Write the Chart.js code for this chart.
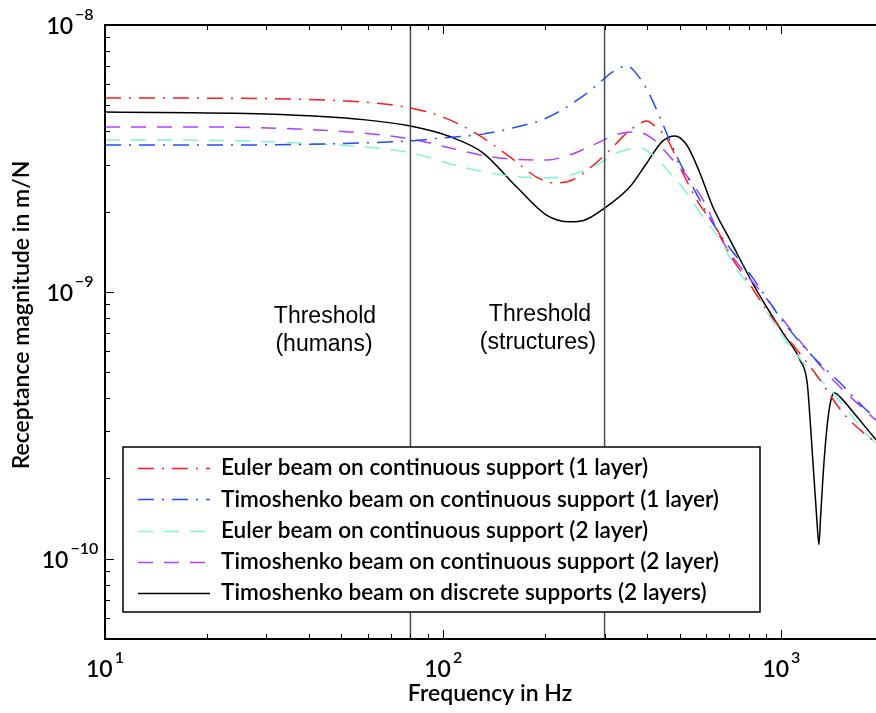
<!DOCTYPE html>
<html>
<head>
<meta charset="utf-8">
<script src="https://cdn.jsdelivr.net/npm/chart.js@4.4.0/dist/chart.umd.min.js"></script>
<style>
  html, body { margin: 0; padding: 0; background: #fff; }
  #wrap { width: 876px; height: 713px; }
</style>
</head>
<body>
<div id="wrap"><canvas id="receptanceChart" width="876" height="713"></canvas></div>
<script>
// ===== Receptance vs frequency (log-log) =====

// Euler beam on continuous support (1 layer)
const redFreq = [10, 20, 35, 50, 65, 80, 98, 126, 157, 190, 214, 240, 275, 311, 350, 389, 400, 425, 458, 511, 562, 645, 719, 791, 882, 1000, 1111, 1274, 1521, 1852, 1904];
const redVal = [5.33e-9, 5.32e-9, 5.28e-9, 5.20e-9, 5.08e-9, 4.89e-9, 4.56e-9, 3.90e-9, 3.21e-9, 2.68e-9, 2.56e-9, 2.62e-9, 2.95e-9, 3.40e-9, 3.95e-9, 4.33e-9, 4.37e-9, 4.15e-9, 3.77e-9, 2.79e-9, 2.21e-9, 1.71e-9, 1.32e-9, 1.11e-9, 8.94e-10, 7.2e-10, 6.07e-10, 4.85e-10, 3.52e-10, 2.79e-10, 2.72e-10];

// Timoshenko beam on continuous support (1 layer)
const blueFreq = [10, 20, 40, 60, 80, 98, 131, 165, 202, 262, 296, 317, 349, 381, 408, 443, 491, 547, 644, 738, 818, 1003, 1240, 1490, 1742, 1904];
const blueVal = [3.55e-9, 3.55e-9, 3.57e-9, 3.62e-9, 3.68e-9, 3.77e-9, 3.90e-9, 4.15e-9, 4.48e-9, 5.47e-9, 6.22e-9, 6.67e-9, 7.02e-9, 6.33e-9, 5.47e-9, 4.33e-9, 3.21e-9, 2.47e-9, 1.71e-9, 1.35e-9, 1.14e-9, 7.85e-10, 5.71e-10, 4.56e-10, 3.71e-10, 3.35e-10];

// Euler beam on continuous support (2 layer)
const cyanFreq = [10, 20, 38, 60, 80, 117, 165, 202, 240, 277, 333, 381, 417, 468, 525, 586, 658, 738, 824, 1010, 1190, 1392, 1673, 1791, 1904];
const cyanVal = [3.71e-9, 3.70e-9, 3.61e-9, 3.48e-9, 3.32e-9, 2.91e-9, 2.70e-9, 2.67e-9, 2.75e-9, 2.94e-9, 3.35e-9, 3.46e-9, 3.26e-9, 2.79e-9, 2.35e-9, 1.91e-9, 1.57e-9, 1.21e-9, 1.02e-9, 6.78e-10, 5.24e-10, 4.30e-10, 3.23e-10, 2.91e-10, 2.72e-10];

// Timoshenko beam on continuous support (2 layer)
const purpleFreq = [10, 19, 53, 80, 105, 130, 157, 202, 240, 277, 340, 374, 414, 468, 536, 602, 658, 925, 1190, 1420, 1827, 1904];
const purpleVal = [4.15e-9, 4.15e-9, 3.97e-9, 3.74e-9, 3.46e-9, 3.25e-9, 3.15e-9, 3.12e-9, 3.28e-9, 3.55e-9, 3.94e-9, 3.97e-9, 3.77e-9, 3.21e-9, 2.63e-9, 2.08e-9, 1.61e-9, 9.09e-10, 6.07e-10, 4.68e-10, 3.46e-10, 3.30e-10];

// Timoshenko beam on discrete supports (2 layers)
const blackFreq = [10, 30, 59, 80, 105, 131, 165, 202, 237, 260, 300, 356, 400, 446, 484, 525, 574, 627, 704, 835, 1010, 1134, 1192, 1214, 1242, 1271, 1291, 1306, 1324, 1345, 1375, 1408, 1440, 1490, 1673, 1904];
const blackVal = [4.72e-9, 4.64e-9, 4.41e-9, 4.18e-9, 3.81e-9, 3.32e-9, 2.47e-9, 1.94e-9, 1.83e-9, 1.85e-9, 2.06e-9, 2.47e-9, 3.04e-9, 3.68e-9, 3.84e-9, 3.55e-9, 2.79e-9, 2.08e-9, 1.57e-9, 1.04e-9, 7.02e-10, 5.56e-10, 4.56e-10, 3.40e-10, 2.21e-10, 1.44e-10, 1.13e-10, 1.44e-10, 1.93e-10, 2.56e-10, 3.40e-10, 4.04e-10, 4.18e-10, 4.04e-10, 3.40e-10, 2.79e-10];

const seriesLabels = [
    'Euler beam on continuous support (1 layer)',
    'Timoshenko beam on continuous support (1 layer)',
    'Euler beam on continuous support (2 layer)',
    'Timoshenko beam on continuous support (2 layer)',
    'Timoshenko beam on discrete supports (2 layers)'
];

const thresholdFreq = [80, 300];
const thresholdLabels = [['Threshold', '(humans)'], ['Threshold', '(structures)']];

const xTickExponents = [1, 2, 3];
const yTickExponents = [-8, -9, -10];

const X_MIN = 10, X_MAX = 1904;
const Y_MIN = 5e-11, Y_MAX = 1e-8;

function toPoints(xs, ys) {
    return xs.map((x, i) => ({ x: x, y: ys[i] }));
}

const seriesStyles = [
    { color: '#ff1a1a', dash: [16, 8, 2, 8] },
    { color: '#1f4dff', dash: [16, 8, 2, 8] },
    { color: '#80f5d8', dash: [15, 11] },
    { color: '#b040ff', dash: [15, 11] },
    { color: '#000000', dash: [] }
];

const seriesData = [
    toPoints(redFreq, redVal),
    toPoints(blueFreq, blueVal),
    toPoints(cyanFreq, cyanVal),
    toPoints(purpleFreq, purpleVal),
    toPoints(blackFreq, blackVal)
];

const datasets = [];

// threshold lines (vertical) go first so the curves sit on top
thresholdFreq.forEach(f => {
    datasets.push({
        label: 'threshold',
        data: [{ x: f, y: Y_MIN }, { x: f, y: Y_MAX }],
        borderColor: '#4d4d4d',
        borderWidth: 1.5,
        pointRadius: 0
    });
});

seriesData.forEach((d, i) => {
    datasets.push({
        label: seriesLabels[i],
        data: d,
        borderColor: seriesStyles[i].color,
        borderDash: seriesStyles[i].dash,
        borderWidth: 1.5,
        pointRadius: 0,
        cubicInterpolationMode: 'monotone'
    });
});

const SANS = 'Lato, "Open Sans", sans-serif';

// Frame, ticks, labels, legend — drawn on top
const framePlugin = {
    id: 'framePlugin',
    afterDatasetsDraw(chart) {
        const ctx = chart.ctx;
        const area = chart.chartArea;
        const xs = chart.scales.x;
        const ys = chart.scales.y;

        ctx.save();

        // threshold texts
        ctx.fillStyle = '#000';
        ctx.font = '23px "Liberation Sans", Arial, sans-serif';
        ctx.textAlign = 'center';
        ctx.textBaseline = 'middle';
        ctx.fillText(thresholdLabels[0][0], 325, 317);
        ctx.fillText(thresholdLabels[0][1], 324, 345);
        ctx.fillText(thresholdLabels[1][0], 540, 315);
        ctx.fillText(thresholdLabels[1][1], 538, 343);

        // axes box (right edge is off the picture)
        ctx.strokeStyle = '#000';
        ctx.lineWidth = 2;
        ctx.beginPath();
        ctx.moveTo(area.right + 2, area.top);
        ctx.lineTo(area.left, area.top);
        ctx.lineTo(area.left, area.bottom);
        ctx.lineTo(area.right + 2, area.bottom);
        ctx.stroke();

        // ticks
        ctx.lineWidth = 1;
        ctx.beginPath();
        for (let n = 1; n <= 3; n++) {
            for (let m = 1; m <= 9; m++) {
                const v = m * Math.pow(10, n);
                if (v < X_MIN || v > X_MAX) continue;
                const px = Math.round(xs.getPixelForValue(v)) + 0.5;
                const len = m === 1 ? 9 : 5;
                ctx.moveTo(px, area.bottom);
                ctx.lineTo(px, area.bottom - len);
                ctx.moveTo(px, area.top);
                ctx.lineTo(px, area.top + len);
            }
        }
        for (let n = -11; n <= -8; n++) {
            for (let m = 1; m <= 9; m++) {
                const v = m * Math.pow(10, n);
                if (v < Y_MIN * 0.999 || v > Y_MAX * 1.001) continue;
                const py = Math.round(ys.getPixelForValue(v)) + 0.5;
                const len = m === 1 ? 9 : 5;
                ctx.moveTo(area.left, py);
                ctx.lineTo(area.left + len, py);
            }
        }
        ctx.stroke();

        // tick labels 10^n
        const baseFont = '600 23px ' + SANS;
        const expFont = '600 16px ' + SANS;
        ctx.textAlign = 'left';
        ctx.textBaseline = 'middle';
        xTickExponents.forEach(e => {
            const px = xs.getPixelForValue(Math.pow(10, e));
            const expText = String(e);
            ctx.font = baseFont;
            const wb = ctx.measureText('10').width;
            ctx.font = expFont;
            const we = ctx.measureText(expText).width;
            const start = px - (wb + we + 2) / 2;
            ctx.font = baseFont;
            ctx.fillText('10', start, 670);
            ctx.font = expFont;
            ctx.fillText(expText, start + wb + 2, 658);
        });
        yTickExponents.forEach(e => {
            const py = ys.getPixelForValue(Math.pow(10, e));
            const expText = '\u2212' + String(-e);
            ctx.font = baseFont;
            const wb = ctx.measureText('10').width;
            ctx.font = expFont;
            const we = ctx.measureText(expText).width;
            const start = 70 - (wb + we + 2) / 2;
            ctx.font = baseFont;
            ctx.fillText('10', start, py + 2);
            ctx.font = expFont;
            ctx.fillText(expText, start + wb + 2, py - 10);
        });

        // axis titles
        ctx.font = '600 23px ' + SANS;
        ctx.textAlign = 'center';
        ctx.textBaseline = 'middle';
        ctx.fillText('Frequency in Hz', 490, 694);
        ctx.save();
        ctx.translate(22, 315);
        ctx.rotate(-Math.PI / 2);
        ctx.fillText('Receptance magnitude in m/N', 0, 0);
        ctx.restore();

        // legend box
        const lx = 123, ly = 447, lw = 637, lh = 165;
        ctx.fillStyle = '#fff';
        ctx.fillRect(lx, ly, lw, lh);
        ctx.strokeStyle = '#000';
        ctx.lineWidth = 1.5;
        ctx.strokeRect(lx, ly, lw, lh);

        ctx.font = '600 22.6px ' + SANS;
        ctx.textAlign = 'left';
        ctx.textBaseline = 'middle';
        seriesLabels.forEach((label, i) => {
            const y = 468 + i * 31.3;
            ctx.save();
            ctx.strokeStyle = seriesStyles[i].color;
            ctx.lineWidth = 1.5;
            ctx.setLineDash(seriesStyles[i].dash);
            ctx.beginPath();
            ctx.moveTo(138, Math.round(y) + 0.5);
            ctx.lineTo(210, Math.round(y) + 0.5);
            ctx.stroke();
            ctx.restore();
            ctx.fillStyle = '#000';
            ctx.fillText(label, 221, y);
        });

        ctx.restore();
    }
};

new Chart(document.getElementById('receptanceChart'), {
    type: 'line',
    data: { datasets: datasets },
    options: {
        responsive: false,
        animation: false,
        devicePixelRatio: 1,
        layout: { padding: { top: 25, right: 0, left: 0, bottom: 0 } },
        plugins: {
            legend: { display: false },
            tooltip: { enabled: false }
        },
        scales: {
            x: {
                type: 'logarithmic',
                min: X_MIN,
                max: X_MAX,
                ticks: { display: false },
                grid: { display: false },
                border: { display: false },
                afterFit: s => { s.height = 74; }
            },
            y: {
                type: 'logarithmic',
                min: Y_MIN,
                max: Y_MAX,
                ticks: { display: false },
                grid: { display: false },
                border: { display: false },
                afterFit: s => { s.width = 105; }
            }
        }
    },
    plugins: [framePlugin]
});
</script>
</body>
</html>
